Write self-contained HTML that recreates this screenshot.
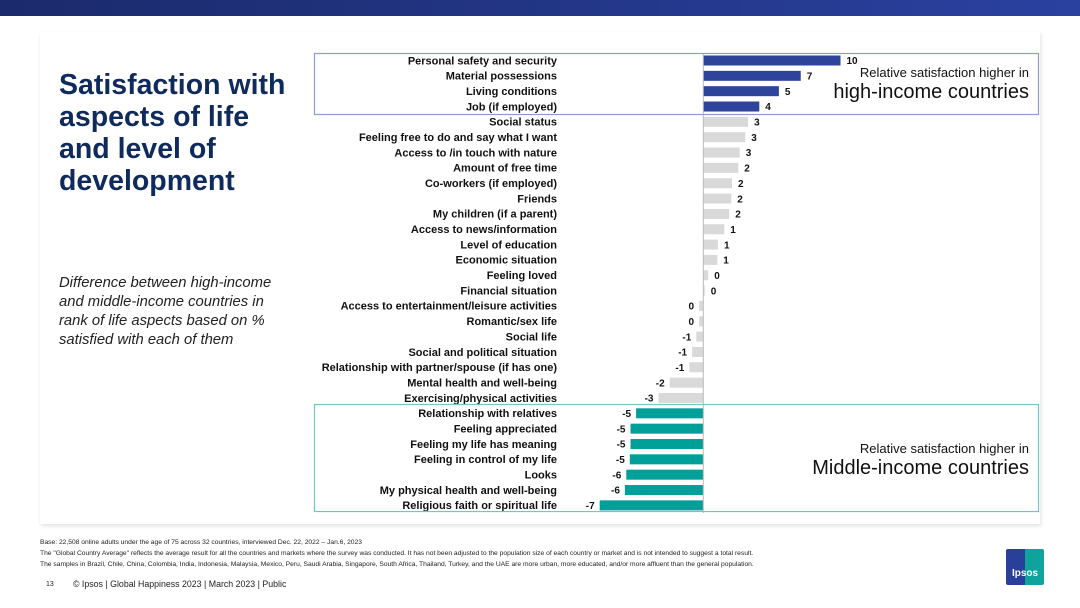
<!DOCTYPE html>
<html><head><meta charset="utf-8"><style>
body{margin:0;width:1080px;height:608px;background:#fff;font-family:"Liberation Sans",Arial,sans-serif;position:relative;overflow:hidden}
.abs{position:absolute}
</style></head><body>
<div class="abs" style="left:0;top:0;width:1080px;height:16px;background:linear-gradient(90deg,#1b2a6b,#2a41a0)"></div>
<div class="abs" style="left:40px;top:32px;width:1000px;height:492px;background:#fff;box-shadow:1px 2px 4px rgba(0,0,0,0.12)"></div>
<div class="abs" style="left:59px;top:69px;font-size:28.5px;line-height:32px;font-weight:bold;color:#0f2a5c">Satisfaction with<br>aspects of life<br>and level of<br>development</div>
<div class="abs" style="left:59px;top:274px;font-size:14.8px;line-height:19px;font-style:italic;color:#222">Difference between high-income<br>and middle-income countries in<br>rank of life aspects based on %<br>satisfied with each of them</div>
<svg class="abs" style="left:0;top:0" width="1080" height="608" id="chart"></svg>
<div class="abs" style="left:780px;top:65px;width:249px;text-align:right;color:#111"><div style="font-size:13px">Relative satisfaction higher in</div><div style="font-size:20px;margin-top:1px">high-income countries</div></div>
<div class="abs" style="left:780px;top:441px;width:249px;text-align:right;color:#111"><div style="font-size:13px">Relative satisfaction higher in</div><div style="font-size:20px;margin-top:1px">Middle-income countries</div></div>
<div class="abs" style="left:40px;top:537px;font-size:6.7px;line-height:11px;color:#222">Base: 22,508 online adults under the age of 75 across 32 countries, interviewed Dec. 22, 2022 – Jan.6, 2023<br>The "Global Country Average" reflects the average result for all the countries and markets where the survey was conducted. It has not been adjusted to the population size of each country or market and is not intended to suggest a total result.<br>The samples in Brazil, Chile, China, Colombia, India, Indonesia, Malaysia, Mexico, Peru, Saudi Arabia, Singapore, South Africa, Thailand, Turkey, and the UAE are more urban, more educated, and/or more affluent than the general population.</div>
<div class="abs" style="left:46px;top:581px;font-size:7px;color:#222">13</div>
<div class="abs" style="left:73px;top:579px;font-size:8.8px;color:#222">© Ipsos | Global Happiness 2023 | March 2023 | Public</div>
<div class="abs" style="left:1006px;top:549px;width:38px;height:36px;background:linear-gradient(90deg,#2a3f9a 50%,#0fa39c 50%);border-radius:2px;color:#fff;font-size:10px;font-weight:bold;text-align:center;line-height:50px">Ipsos</div>
<script>
const categories=["Personal safety and security","Material possessions","Living conditions","Job (if employed)","Social status","Feeling free to do and say what I want","Access to /in touch with nature","Amount of free time","Co-workers (if employed)","Friends","My children (if a parent)","Access to news/information","Level of education","Economic situation ","Feeling loved","Financial situation","Access to entertainment/leisure activities","Romantic/sex life","Social life","Social and political situation","Relationship with partner/spouse (if has one)","Mental health and well-being","Exercising/physical activities","Relationship with relatives","Feeling appreciated","Feeling my life has meaning","Feeling in control of my life","Looks","My physical health and well-being","Religious faith or spiritual life"];
const values=[9.8,6.96,5.4,4.0,3.2,3.0,2.6,2.5,2.05,2.0,1.85,1.5,1.05,1.0,0.35,0.1,-0.3,-0.3,-0.5,-0.8,-1.0,-2.4,-3.2,-4.8,-5.2,-5.2,-5.25,-5.5,-5.6,-7.4];
const valueLabels=["10","7","5","4","3","3","3","2","2","2","2","1","1","1","0","0","0","0","-1","-1","-1","-2","-3","-5","-5","-5","-5","-6","-6","-7"];
const groups=["high","high","high","high","mid","mid","mid","mid","mid","mid","mid","mid","mid","mid","mid","mid","mid","mid","mid","mid","mid","mid","mid","low","low","low","low","low","low","low"];
const svg=document.getElementById('chart');const NS='http://www.w3.org/2000/svg';
const x0=703.3,unit=14,y0=60.5,step=15.34,bh=10;
const xs=v=>x0+v*unit, ys=i=>y0+i*step;
const colors={high:'#2e449b',mid:'#d9d9d9',low:'#00a09a'};
function mk(t,a){const e=document.createElementNS(NS,t);for(const k in a)e.setAttribute(k,a[k]);svg.appendChild(e);return e;}
categories.forEach((c,i)=>{
 const v=values[i],y=ys(i);
 const r=mk('rect',{x:Math.min(xs(0),xs(v)),y:y-bh/2,width:Math.abs(xs(v)-xs(0)),height:bh,fill:colors[groups[i]]});
 
 
 const t=mk('text',{x:557,y:y+3.8,'text-anchor':'end','font-size':'11','font-weight':'bold',fill:'#111','font-family':'Liberation Sans, sans-serif'});
 t.textContent=c;
 
 
 const pos=v>=0;
 const vl=mk('text',{x:pos?xs(v)+6:xs(v)-5,y:y+3.7,'text-anchor':pos?'start':'end','font-size':'10','font-weight':'bold',fill:'#111','font-family':'Liberation Sans, sans-serif'});
 vl.textContent=valueLabels[i];
 
 
});
const ax=mk('line',{x1:x0,x2:x0,y1:53,y2:513,stroke:'#bbb','stroke-width':1});


const b1=mk('rect',{x:314.5,y:53.5,width:724,height:61,fill:'none',stroke:'#8f9bd0','stroke-width':1.2});


const b2=mk('rect',{x:314.5,y:404.5,width:724,height:107,fill:'none',stroke:'#6fc8c4','stroke-width':1.2});


</script>
</body></html>
